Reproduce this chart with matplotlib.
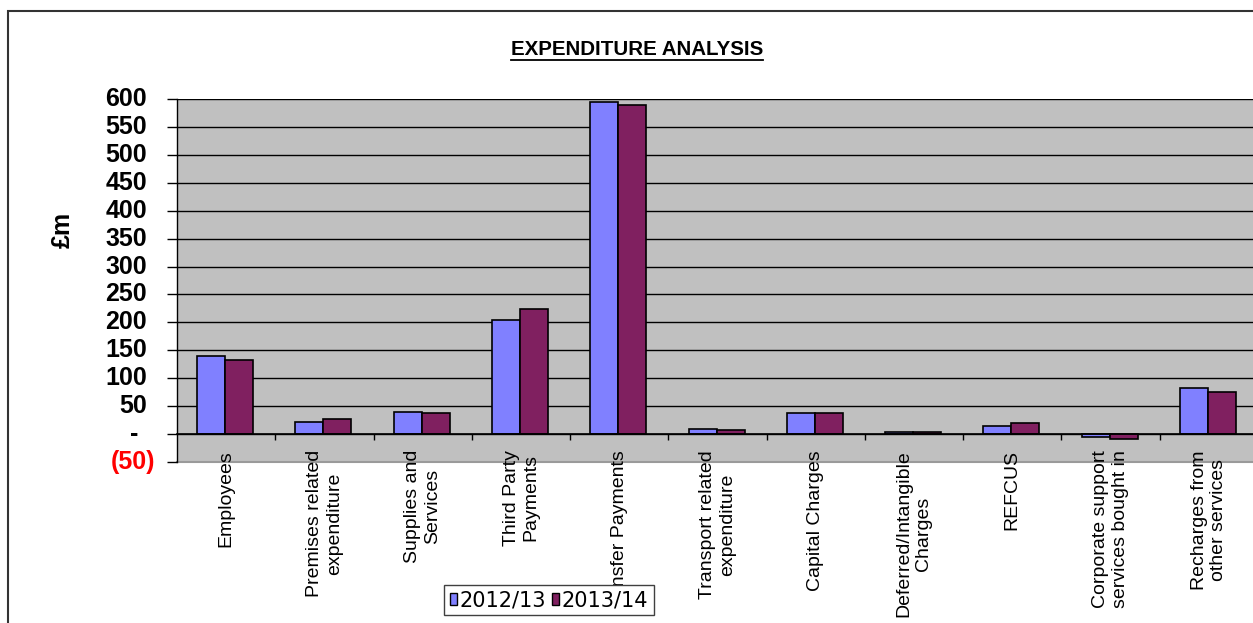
import matplotlib
matplotlib.use("Agg")
import matplotlib.pyplot as plt
from matplotlib.patches import Patch, Rectangle
from matplotlib.lines import Line2D
from matplotlib.transforms import blended_transform_factory

plt.rcParams['font.family'] = ['Liberation Sans', 'DejaVu Sans']

categories = ["Employees", "Premises related\nexpenditure", "Supplies and\nServices",
              "Third Party\nPayments", "Transfer Payments", "Transport related\nexpenditure",
              "Capital Charges", "Deferred/Intangible\nCharges", "REFCUS",
              "Corporate support\nservices bought in", "Recharges from\nother services"]
spend_1213 = [140, 21, 39, 205, 595, 9, 37, 3.5, 15, -5, 82]
spend_1314 = [133, 27, 37.5, 224, 590, 7.5, 38.5, 4, 20, -9, 75]
years = ["2012/13", "2013/14"]
yticks = list(range(-50, 601, 50))
yticklabels = ["(50)", "-"] + [str(v) for v in range(50, 601, 50)]

W, H = 1253, 623
fig = plt.figure(figsize=(W / 100, H / 100), dpi=100)
ax = fig.add_axes([177 / W, 1 - 462 / H, 1081 / W, 363 / H])
ax.set_facecolor("#C0C0C0")

x = list(range(len(categories)))
bw = 0.285
ax.bar([i - bw / 2 - 0.01 for i in x], spend_1213, bw, color="#8080FF",
       edgecolor="black", linewidth=1.2, label=years[0], zorder=2)
ax.bar([i + bw / 2 - 0.01 for i in x], spend_1314, bw, color="#802060",
       edgecolor="black", linewidth=1.2, label=years[1], zorder=2)

ax.set_xlim(-0.5, len(categories) - 0.5)
ax.set_ylim(-50, 600)

# horizontal gridlines, grey border along the bottom of the plot area
for v in yticks[1:]:
    ax.axhline(v, color="black", lw=1, zorder=1)
ax.axhline(-50, color="#9A9A9A", lw=1.5, zorder=1, clip_on=False)

for s in ["top", "right"]:
    ax.spines[s].set_visible(False)
ax.spines["left"].set_color("black")
ax.spines["left"].set_linewidth(1)
ax.spines["bottom"].set_position(("data", 0))
ax.spines["bottom"].set_linewidth(1.2)

ax.set_yticks(yticks)
ax.tick_params(axis="y", length=7.2, width=1, labelleft=False)

ax.set_xticks(x)
ax.set_xticklabels(categories, rotation=90, fontsize=14)
ax.set_xticks([i + 0.5 for i in x[:-1]], minor=True)
ax.tick_params(axis="x", which="major", length=0, pad=11.5)
ax.tick_params(axis="x", which="minor", length=4.3, width=1, direction="out")

# accounting style value labels on the y axis
ylab_tf = blended_transform_factory(fig.transFigure, ax.transData)
for v, s in zip(yticks, yticklabels):
    if v < 0:
        xr, col = 155, "#FF0000"
    elif v == 0:
        xr, col = 138, "black"
    else:
        xr, col = 147, "black"
    fig.text(xr / W, v, s, transform=ylab_tf, ha="right", va="center",
             fontsize=18, fontweight="bold", color=col)

fig.text(63 / W, 1 - 230 / H, "£m", rotation=90, ha="center", va="center",
         fontsize=18, fontweight="bold")

title = fig.text(637 / W, 1 - 49.5 / H, "EXPENDITURE ANALYSIS", ha="center",
                 va="center", fontsize=14.8, fontweight="bold")
renderer = fig.canvas.get_renderer()
bb = title.get_window_extent(renderer)
fig.add_artist(Line2D([bb.x0 / W, bb.x1 / W], [1 - 60 / H, 1 - 60 / H],
                      transform=fig.transFigure, color="black", lw=1.3))

handles = [Patch(facecolor="#8080FF", edgecolor="black", lw=1),
           Patch(facecolor="#802060", edgecolor="black", lw=1)]
leg = ax.legend(handles, years, ncol=2, loc="center",
                bbox_to_anchor=(549 / W, 1 - 600 / H), bbox_transform=fig.transFigure,
                prop={"family": "DejaVu Sans", "size": 15},
                fancybox=False, framealpha=1, edgecolor="#404040",
                borderpad=0.25, handlelength=0.35, handleheight=0.5,
                handletextpad=0.12, columnspacing=0.3, borderaxespad=0)
leg.get_frame().set_linewidth(1)
leg.set_zorder(10)

# chart frame
fig.add_artist(Rectangle((8 / W, -0.2), 1.2, 1.2 - 11 / H, transform=fig.transFigure,
                         fill=False, edgecolor="#333333", lw=1.5))

fig.savefig("out.png", dpi=100)
